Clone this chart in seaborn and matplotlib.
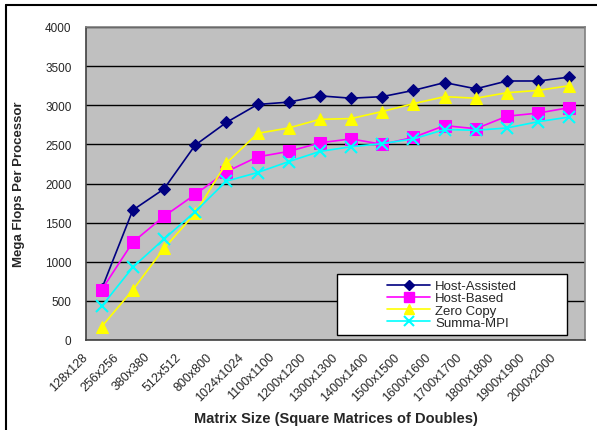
import numpy as np
import pandas as pd
import matplotlib
matplotlib.use("Agg")
import matplotlib.pyplot as plt
import seaborn as sns
from matplotlib.patches import Rectangle
from matplotlib.lines import Line2D

# values
sizes = ['128x128', '256x256', '380x380', '512x512', '800x800', '1024x1024',
         '1100x1100', '1200x1200', '1300x1300', '1400x1400', '1500x1500',
         '1600x1600', '1700x1700', '1800x1800', '1900x1900', '2000x2000']
host_assisted = [650, 1660, 1930, 2490, 2780, 3010, 3040, 3120, 3090, 3110,
                 3190, 3290, 3210, 3310, 3310, 3360]
host_based = [640, 1250, 1580, 1860, 2150, 2340, 2410, 2520, 2570, 2500,
              2590, 2740, 2700, 2860, 2900, 2970]
zero_copy = [170, 640, 1170, 1620, 2260, 2640, 2710, 2820, 2830, 2920,
             3020, 3110, 3090, 3160, 3190, 3250]
summa_mpi = [430, 930, 1290, 1640, 2030, 2140, 2280, 2410, 2470, 2510,
             2570, 2690, 2680, 2710, 2790, 2850]
y_ticks = [0, 500, 1000, 1500, 2000, 2500, 3000, 3500, 4000]

df = pd.DataFrame({
    'pos': np.arange(len(sizes)),
    'Host-Assisted': host_assisted,
    'Host-Based': host_based,
    'Zero Copy': zero_copy,
    'Summa-MPI': summa_mpi,
})

sns.set_style('white')
plt.rcParams['font.family'] = ['Liberation Sans', 'DejaVu Sans']

fig = plt.figure(figsize=(5.97, 4.31), dpi=100)
ax = fig.add_axes([86 / 597, 1 - 341 / 431, 499 / 597, 313 / 431])
ax.set_facecolor('#C0C0C0')

styles = {
    'Host-Assisted': dict(color='#000080', marker='D', markersize=6),
    'Host-Based': dict(color='#FF00FF', marker='s', markersize=8),
    'Zero Copy': dict(color='#FFFF00', marker='^', markersize=8),
    'Summa-MPI': dict(color='#00FFFF', marker='x', markersize=8, markeredgewidth=1.5),
}
for name, st in styles.items():
    sns.lineplot(data=df, x='pos', y=name, ax=ax, linewidth=1.2,
                 markeredgecolor=st['color'], **st)

ax.set_xlim(-0.5, len(sizes) - 0.5)
ax.set_ylim(0, 4000)
ax.set_yticks(y_ticks)
ax.set_yticklabels([str(v) for v in y_ticks], fontsize=8.5)
ax.yaxis.grid(True, color='black', linewidth=1)
ax.set_axisbelow(True)

ax.set_xticks(np.arange(-0.5, len(sizes), 1))
ax.set_xticklabels(sizes + [''], fontsize=9, rotation=45, ha='right',
                   va='center', rotation_mode='anchor')
ax.tick_params(axis='both', direction='out', length=4.5, width=1, color='#404040')
ax.tick_params(axis='y', pad=6)
ax.tick_params(axis='x', pad=6)

for side in ['left', 'bottom']:
    ax.spines[side].set_color('#404040')
for side in ['top', 'right']:
    ax.spines[side].set_color('#808080')
for sp in ax.spines.values():
    sp.set_linewidth(1.2)

ax.set_xlabel('Matrix Size (Square Matrices of Doubles)', fontsize=10.5,
              fontweight='bold', labelpad=6)
ax.set_ylabel('Mega Flops Per Processor', fontsize=9.5, fontweight='bold',
              labelpad=14)

# legend: white box with the entries centred inside it
box = (0.503, 0.016, 0.461, 0.195)
ax.add_patch(Rectangle(box[:2], box[2], box[3], transform=ax.transAxes,
                       facecolor='white', edgecolor='black', linewidth=1,
                       zorder=4))
handles = []
for name, st in styles.items():
    ms = st['markersize'] - 1
    handles.append(Line2D([], [], color=st['color'], marker=st['marker'],
                          markersize=ms, markeredgecolor=st['color'],
                          markeredgewidth=st.get('markeredgewidth', 1),
                          linewidth=1.2, label=name))
leg = ax.legend(handles=handles, loc='center', bbox_to_anchor=box,
                fontsize=9.5, frameon=False, labelspacing=0,
                handlelength=3.3, handletextpad=0.35, borderpad=0,
                borderaxespad=0)
leg.set_zorder(5)

# outer border of the chart (top and left edges show)
fig.add_artist(Line2D([6 / 597, 1], [1 - 6 / 431, 1 - 6 / 431],
                      transform=fig.transFigure, color='black', linewidth=1.5))
fig.add_artist(Line2D([6 / 597, 6 / 597], [0, 1 - 6 / 431],
                      transform=fig.transFigure, color='black', linewidth=1.5))

fig.savefig('out.png', dpi=100)
